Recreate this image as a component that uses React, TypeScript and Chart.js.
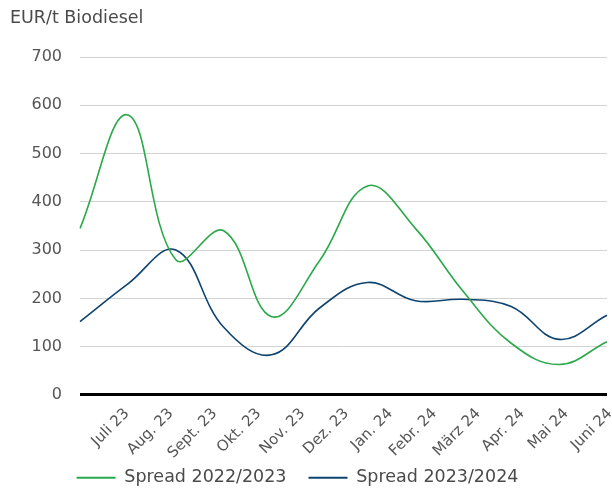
import React, { useEffect, useRef } from "react";
import { Chart, registerables } from "chart.js";

Chart.register(...registerables);

const categories = ["Juli 23", "Aug. 23", "Sept. 23", "Okt. 23", "Nov. 23", "Dez. 23", "Jan. 24", "Febr. 24", "März 24", "Apr. 24", "Mai 24", "Juni 24"];
const spread2022 = [345, 580, 280, 340, 162, 278, 433, 345, 214, 107, 63, 110];
const spread2023 = [152, 230, 300, 140, 83, 180, 233, 195, 198, 183, 115, 165];
const yTicks = [0, 100, 200, 300, 400, 500, 600, 700];

const FONT = "'DejaVu Sans', sans-serif";
const GREEN = "#2aa84a";
const NAVY = "#0f4470";

const placeLegend = {
  id: "placeLegend",
  afterLayout(chart: any) {
    const lg = chart.legend;
    if (lg) {
      lg.left -= 11;
      lg.right -= 11;
      const h = lg.bottom - lg.top;
      lg.top = 447;
      lg.bottom = 447 + h;
    }
  },
};

export default function App() {
  const ref = useRef<HTMLCanvasElement | null>(null);
  useEffect(() => {
    if (!ref.current) return;
    const chart = new Chart(ref.current, {
      type: "line",
      data: {
        labels: categories,
        datasets: [
          { label: "Spread 2022/2023", data: spread2022, xAxisID: "x", borderColor: GREEN, backgroundColor: GREEN, borderWidth: 1.6, pointRadius: 0, tension: 0.4 },
          { label: "Spread 2023/2024", data: spread2023, xAxisID: "x", borderColor: NAVY, backgroundColor: NAVY, borderWidth: 1.6, pointRadius: 0, tension: 0.4 },
        ],
      },
      plugins: [placeLegend],
      options: {
        animation: false,
        responsive: false,
        maintainAspectRatio: false,
        layout: { padding: { left: 10, right: 5, top: 0, bottom: -23.4 } },
        plugins: {
          title: {
            display: true,
            text: "EUR/t Biodiesel",
            align: "start",
            color: "#4a4a4a",
            font: { family: FONT, size: 17.5, weight: "normal" },
            padding: { top: 8, bottom: 28 },
          },
          legend: {
            position: "bottom",
            align: "center",
            labels: {
              color: "#4a4a4a",
              font: { family: FONT, size: 17.5 },
              boxWidth: 39,
              boxHeight: 2,
              padding: 22,
              generateLabels: (c: any) => {
                const items = Chart.defaults.plugins.legend.labels.generateLabels(c);
                return items.map((it: any) => ({ ...it, lineWidth: 0 }));
              },
            },
          },
          tooltip: { enabled: false },
        },
        scales: {
          x: {
            type: "category",
            display: false,
            offset: false,
          },
          x2: {
            type: "category",
            position: "bottom",
            labels: categories,
            offset: true,
            afterFit: (s: any) => { s.height = 68; },
            grid: { display: false, drawTicks: false },
            border: { display: false },
            ticks: {
              color: "#555",
              font: { family: FONT, size: 15 },
              minRotation: 45,
              maxRotation: 45,
              labelOffset: 25,
              padding: 10,
              autoSkip: false,
            },
          },
          y: {
            min: 0,
            max: 700,
            afterBuildTicks: (s: any) => { s.ticks = yTicks.map((v) => ({ value: v })); },
            afterFit: (s: any) => { s.width = 70; },
            grid: {
              color: (ctx: any) => (ctx.tick && ctx.tick.value === 0 ? "#000" : "#d3d3d3"),
              lineWidth: (ctx: any) => (ctx.tick && ctx.tick.value === 0 ? 3 : 1),
              drawTicks: false,
            },
            border: { display: false },
            ticks: {
              color: "#555",
              font: { family: FONT, size: 16 },
              padding: 18,
            },
          },
        },
      },
    });
    return () => chart.destroy();
  }, []);
  return (
    <div style={{ position: "absolute", left: 0, top: 0, width: 612, height: 489, background: "#fff" }}>
      <canvas ref={ref} width={612} height={489} style={{ width: 612, height: 489 }} />
    </div>
  );
}
